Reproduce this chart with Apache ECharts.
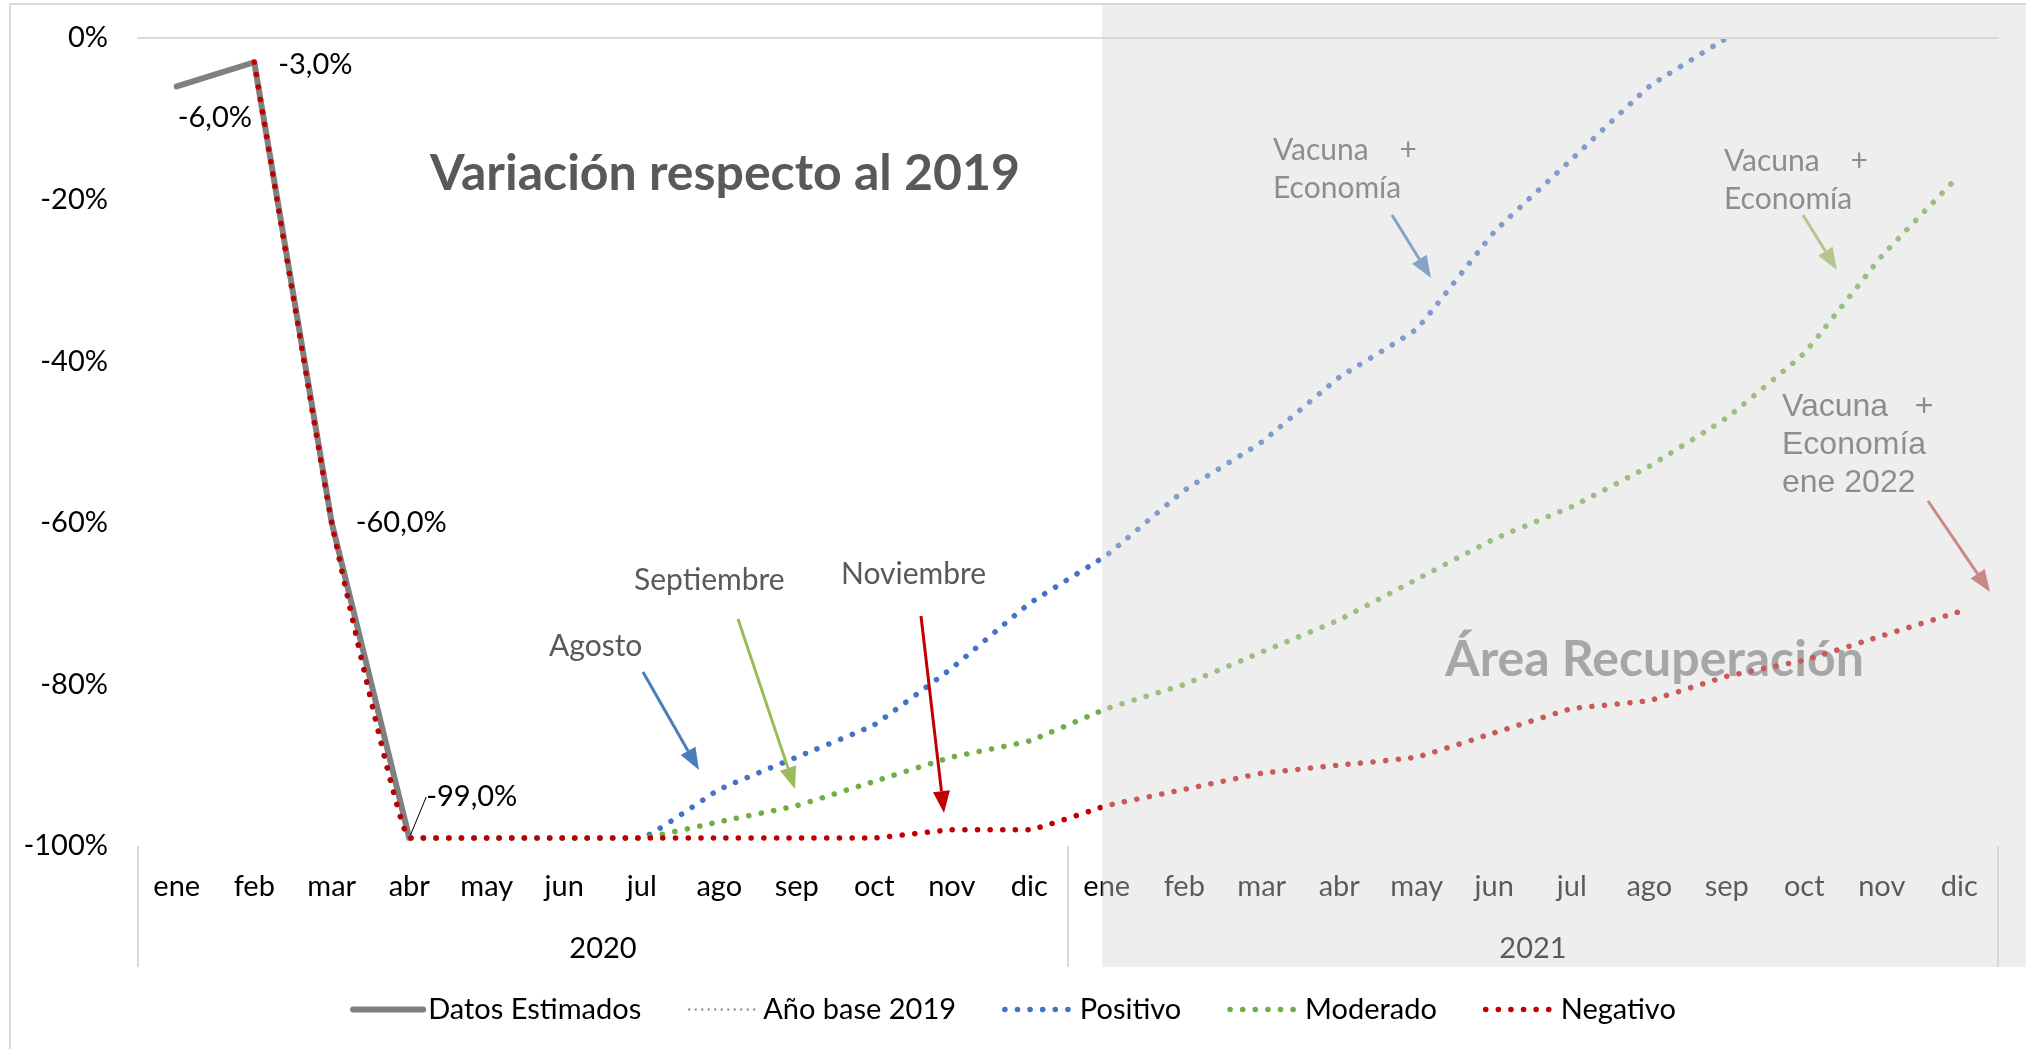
<!DOCTYPE html>
<html>
<head>
<meta charset="utf-8">
<title>Variación respecto al 2019</title>
<script src="https://cdn.jsdelivr.net/npm/echarts@6/dist/echarts.min.js"></script>
<style>
    html, body { margin: 0; padding: 0; background: #fff; }
    #chart { width: 2026px; height: 1049px; }
</style>
</head>
<body>
<div id="chart"></div>
<script>
    // categorias: meses de 2020 y 2021
    const meses = ['ene', 'feb', 'mar', 'abr', 'may', 'jun', 'jul', 'ago', 'sep', 'oct', 'nov', 'dic',
                   'ene', 'feb', 'mar', 'abr', 'may', 'jun', 'jul', 'ago', 'sep', 'oct', 'nov', 'dic'];
    const anios = ['2020', '2021'];

    // variacion (%) respecto al 2019
    const estimados = [-6, -3, -60, -99, null, null, null, null, null, null, null, null,
                       null, null, null, null, null, null, null, null, null, null, null, null];
    const base2019 = [0, 0, 0, 0, 0, 0, 0, 0, 0, 0, 0, 0,
                      0, 0, 0, 0, 0, 0, 0, 0, 0, 0, 0, 0];
    const positivo = [null, -3, -60, -99, -99, -99, -99, -93, -89, -85, -78, -70,
                      -64, -56, -50, -42, -36, -24, -15, -6, 0, null, null, null];
    const moderado = [null, -3, -60, -99, -99, -99, -99, -97, -95, -92, -89, -87,
                      -83, -80, -76, -72, -67, -62, -58, -53, -47, -39, -27, -17];
    const negativo = [null, -3, -60, -99, -99, -99, -99, -99, -99, -99, -98, -98,
                      -95, -93, -91, -90, -89, -86, -83, -82, -79, -77, -74, -71];

    const FONT = 'Lato';
    const FONT_ARIAL = 'Liberation Sans';
    const FS = 29;
    const SMOOTH = 0.08;

    const pct = v => v.toFixed(1).replace('.', ',') + '%';

    // desplazamiento de las etiquetas (px desde el punto, borde izquierdo / centro vertical)
    const labelShift = [[1, 31], [24, 2], [24, 0], [17, -41]];
    const estimadosData = estimados.map((v, i) => {
        if (v === null) return v;
        return {value: v, label: {show: true}, labelLine: {show: i === 3}};
    });

    function dotted(color) {
        return {color: color, width: 5.5, type: [0.1, 12.5], cap: 'round'};
    }

    function arrow(x1, y1, x2, y2, color) {
        const a = Math.atan2(y2 - y1, x2 - x1);
        const L = 22, W = 8.5;
        const bx = x2 - L * Math.cos(a), by = y2 - L * Math.sin(a);
        return [
            {type: 'line', z: 5, shape: {x1: x1, y1: y1, x2: bx, y2: by}, style: {stroke: color, lineWidth: 3}},
            {type: 'polygon', z: 5, shape: {points: [[x2, y2], [bx + W * Math.sin(a), by - W * Math.cos(a)], [bx - W * Math.sin(a), by + W * Math.cos(a)]]}, style: {fill: color}}
        ];
    }

    function txt(text, x, y, size, color, weight, family) {
        return {
            type: 'text', z: 1, x: x, y: y,
            style: {text: text, fill: color, fontSize: size, fontWeight: weight || 'normal', fontFamily: family || FONT, verticalAlign: 'middle'}
        };
    }

    const chart = echarts.init(document.getElementById('chart'));
    chart.setOption({
        animation: false,
        textStyle: {fontFamily: FONT},
        grid: {left: 138, right: 28, top: 38, bottom: 203},
        legend: {
            top: 990,
            left: 'center',
            itemWidth: 70,
            itemHeight: 14,
            itemGap: 46,
            itemStyle: {opacity: 0},
            lineStyle: {width: 'inherit'},
            textStyle: {fontSize: FS, color: '#000', fontFamily: FONT},
            data: ['Datos Estimados', 'Año base 2019', 'Positivo', 'Moderado', 'Negativo']
        },
        xAxis: [{
            type: 'category',
            data: meses,
            boundaryGap: true,
            axisLine: {lineStyle: {color: '#D9D9D9', width: 2}},
            axisTick: {show: false},
            axisLabel: {color: '#000', fontSize: FS, margin: 26, interval: 0}
        }, {
            type: 'category',
            data: anios,
            position: 'bottom',
            boundaryGap: true,
            axisLine: {show: false},
            axisTick: {show: true, length: 121, lineStyle: {color: '#D9D9D9', width: 2}},
            axisLabel: {color: '#000', fontSize: FS, margin: 88}
        }],
        yAxis: {
            type: 'value',
            min: -100,
            max: 0,
            interval: 20,
            axisLine: {show: false},
            axisTick: {show: false},
            splitLine: {show: false},
            axisLabel: {color: '#000', fontSize: FS, margin: 30, formatter: v => v + '%'}
        },
        series: [{
            name: 'Datos Estimados',
            type: 'line',
            data: estimadosData,
            symbol: 'circle',
            symbolSize: 1,
            showSymbol: true,
            smooth: false,
            lineStyle: {color: '#808080', width: 6, cap: 'round'},
            itemStyle: {color: '#808080'},
            label: {show: true, color: '#000', fontSize: FS, formatter: p => pct(p.value)},
            labelLayout: p => {
                const s = labelShift[p.dataIndex];
                const cx = p.rect.x + p.rect.width / 2, cy = p.rect.y + p.rect.height / 2;
                return {x: cx + s[0], y: cy + s[1], align: 'left', verticalAlign: 'middle'};
            },
            labelLine: {show: false, lineStyle: {color: '#000', width: 1}},
            z: 2
        }, {
            name: 'Año base 2019',
            type: 'line',
            data: base2019,
            symbol: 'none',
            lineStyle: {color: '#808080', width: 2, type: [2, 4.5]},
            itemStyle: {color: '#808080'},
            markLine: {
                silent: true,
                symbol: 'none',
                label: {show: false},
                lineStyle: {color: '#D9D9D9', width: 2, type: 'solid'},
                data: [{yAxis: 0}]
            },
            z: 1
        }, {
            name: 'Positivo',
            type: 'line',
            data: positivo,
            symbol: 'none',
            smooth: SMOOTH,
            lineStyle: dotted('#4472C4'),
            itemStyle: {color: '#4472C4'},
            z: 3
        }, {
            name: 'Moderado',
            type: 'line',
            data: moderado,
            symbol: 'none',
            smooth: SMOOTH,
            lineStyle: dotted('#70AD47'),
            itemStyle: {color: '#70AD47'},
            z: 3
        }, {
            name: 'Negativo',
            type: 'line',
            data: negativo,
            symbol: 'none',
            smooth: SMOOTH,
            lineStyle: dotted('#C00000'),
            itemStyle: {color: '#C00000'},
            z: 4
        }],
        graphic: [
            // borde del grafico
            {type: 'rect', z: 0, shape: {x: 10, y: 4, width: 2100, height: 1100}, style: {fill: null, stroke: '#D9D9D9', lineWidth: 2}},
            txt('Variación respecto al 2019', 430, 174, 50, '#595959', 'bold'),
            txt('Área Recuperación', 1445, 660, 50, '#848484', 'bold'),
            txt('Agosto', 549, 646, 30, '#595959'),
            txt('Septiembre', 634, 580, 30, '#595959'),
            txt('Noviembre', 841, 574, 30, '#595959'),
            txt('Vacuna    +', 1273, 150, 30, '#595959'),
            txt('Economía', 1273, 188, 30, '#595959'),
            txt('Vacuna    +', 1724, 161, 30, '#595959'),
            txt('Economía', 1724, 199, 30, '#595959'),
            txt('Vacuna   +', 1782, 407, 32, '#595959', 'normal', FONT_ARIAL),
            txt('Economía', 1782, 445, 32, '#595959', 'normal', FONT_ARIAL),
            txt('ene 2022', 1782, 483, 32, '#595959', 'normal', FONT_ARIAL),
            ...arrow(643, 672, 699, 770, '#4A7EBB'),
            ...arrow(738, 619, 795, 789, '#9BBB59'),
            ...arrow(921, 616, 944, 813, '#C00000'),
            ...arrow(1392, 215, 1431, 278, '#4A7EBB'),
            ...arrow(1803, 215, 1837, 270, '#9BBB59'),
            ...arrow(1928, 501, 1990, 592, '#C0504D'),
            // area de recuperacion (capa gris semitransparente)
            {type: 'rect', z: 100, silent: true, shape: {x: 1102, y: 5, width: 924, height: 962}, style: {fill: 'rgba(215,215,215,0.42)'}}
        ]
    });
</script>
</body>
</html>
